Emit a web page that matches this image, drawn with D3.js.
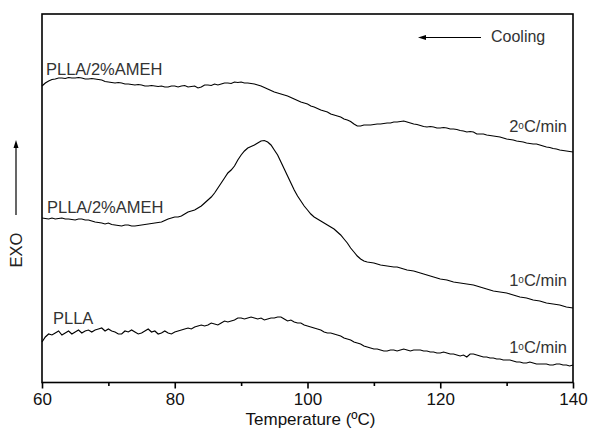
<!DOCTYPE html>
<html>
<head>
<meta charset="utf-8">
<script src="https://cdn.jsdelivr.net/npm/d3@7/dist/d3.min.js"></script>
<style>
  html, body { margin: 0; padding: 0; background: #fff; }
  svg { display: block; font-family: "Liberation Sans", Arial, Helvetica, sans-serif; }
</style>
</head>
<body>
<svg id="chart" width="590" height="430"></svg>
<script>
// Temperature (°C), readings every half degree
const temperature = d3.range(60, 140.25, 0.5);

// Heat flow (arbitrary units, exo up)
const rate2_AMEH = [
  31.4,31.7,31.9,32.05,32.1,32.2,32.2,32.15,32.25,32.2,
  32.2,32.25,32.2,32.1,32.1,32.15,32.1,32.05,32.0,31.85,
  31.8,31.75,31.7,31.75,31.7,31.6,31.6,31.55,31.5,31.55,
  31.5,31.4,31.4,31.45,31.4,31.35,31.4,31.3,31.3,31.4,
  31.4,31.3,31.4,31.45,31.3,31.35,31.4,31.2,31.3,31.5,
  31.5,31.45,31.6,31.5,31.6,31.7,31.7,31.65,31.8,31.75,
  31.8,31.7,31.7,31.65,31.6,31.5,31.4,31.25,31.1,30.95,
  30.8,30.7,30.6,30.5,30.4,30.25,30.1,29.95,29.8,29.7,
  29.6,29.4,29.3,29.15,29.0,28.9,28.8,28.6,28.5,28.4,
  28.3,28.1,28.0,27.85,27.6,27.4,27.4,27.5,27.5,27.5,
  27.55,27.6,27.6,27.65,27.7,27.7,27.8,27.8,27.85,27.9,
  27.8,27.7,27.6,27.55,27.45,27.35,27.3,27.35,27.3,27.2,
  27.2,27.25,27.2,27.1,27.1,27.05,26.95,26.9,26.8,26.85,
  26.8,26.6,26.6,26.6,26.5,26.45,26.4,26.35,26.3,26.2,
  26.1,26.05,26.0,25.9,25.85,25.8,25.7,25.65,25.6,25.6,
  25.5,25.4,25.3,25.25,25.15,25.1,25.0,24.95,24.9,24.85,
  24.8];

const rate1_AMEH = [
  18.2,18.15,18.1,18.2,18.1,18.15,18.2,18.1,18.1,18.05,
  18.0,18.1,18.1,18.0,18.0,17.9,17.8,17.75,17.7,17.6,
  17.7,17.55,17.5,17.45,17.4,17.5,17.5,17.4,17.4,17.45,
  17.5,17.55,17.6,17.65,17.7,17.75,17.8,17.95,18.1,18.2,
  18.3,18.3,18.4,18.6,18.8,18.9,19.0,19.2,19.4,19.7,
  20.0,20.3,20.7,21.2,21.7,22.2,22.7,23.0,23.4,24.0,
  24.5,24.9,25.2,25.35,25.5,25.7,25.9,25.95,25.8,25.5,
  25.0,24.5,23.8,23.1,22.4,21.7,21.0,20.4,19.9,19.4,
  19.0,18.6,18.3,18.1,17.9,17.7,17.5,17.3,17.1,16.8,
  16.5,16.1,15.7,15.2,14.8,14.4,14.1,13.9,13.8,13.75,
  13.7,13.6,13.5,13.45,13.4,13.35,13.3,13.3,13.2,13.1,
  13.0,12.95,12.9,12.8,12.7,12.6,12.5,12.4,12.3,12.2,
  12.1,12.05,12.0,11.9,11.8,11.75,11.7,11.65,11.6,11.55,
  11.5,11.4,11.3,11.2,11.1,11.0,10.9,10.85,10.8,10.75,
  10.7,10.6,10.5,10.4,10.3,10.25,10.2,10.1,10.0,9.95,
  9.9,9.8,9.7,9.65,9.6,9.55,9.5,9.4,9.3,9.25,
  9.2];

const rate1_PLLA = [
  5.8,6.3,6.6,6.5,6.7,6.9,6.5,6.7,6.9,6.6,
  6.8,7.0,6.7,6.9,7.0,6.8,7.0,7.1,7.2,6.9,
  7.1,6.9,6.8,6.6,6.6,6.9,6.8,7.0,6.8,6.6,
  6.7,6.9,7.1,6.8,6.9,6.6,6.7,6.9,6.7,6.6,
  6.8,6.9,7.0,7.1,7.2,7.1,7.3,7.4,7.5,7.4,
  7.5,7.7,7.6,7.5,7.7,7.9,7.8,7.9,8.0,8.2,
  8.2,8.1,8.2,8.3,8.2,8.1,8.2,8.0,8.1,8.2,
  8.2,8.3,8.3,8.1,7.9,8.0,7.8,7.7,7.7,7.5,
  7.4,7.3,7.2,7.1,7.0,6.8,6.7,6.7,6.6,6.5,
  6.4,6.2,6.1,6.0,5.8,5.7,5.6,5.4,5.3,5.2,
  5.1,5.1,5.0,4.9,4.9,5.0,5.0,4.9,5.0,5.1,
  5.0,4.9,5.0,5.0,5.0,4.9,4.9,4.8,4.8,4.7,
  4.7,4.8,4.7,4.6,4.6,4.5,4.4,4.5,4.3,4.6,
  4.6,4.5,4.4,4.3,4.3,4.2,4.2,4.1,4.1,4.0,
  4.0,4.0,3.9,3.8,3.8,3.7,3.7,3.8,3.7,3.6,
  3.6,3.6,3.6,3.5,3.5,3.6,3.6,3.5,3.5,3.4,
  3.5];

const xTicks = [60, 80, 100, 120, 140];
const xMinorTicks = [70, 90, 110, 130];
const seriesNames = ["PLLA/2%AMEH", "PLLA/2%AMEH", "PLLA"];
const rateNumbers = ["2", "1", "1"];   // rate labels read "2°C/min", "1°C/min", "1°C/min"

const svg = d3.select("#chart");
const L = 42, R = 573, T = 14, B = 382.5;

const x = d3.scaleLinear().domain([60, 140]).range([L, R]);
const y = d3.scaleLinear().domain([1.75, 38.6]).range([B, T]);

// curves
const line = d3.line().x(d => x(d[0])).y(d => y(d[1]));
[rate2_AMEH, rate1_AMEH, rate1_PLLA].forEach(vals => {
  svg.append("path")
    .attr("d", line(temperature.map((t, i) => [t, vals[i]]).filter(d => d[1] !== undefined)))
    .attr("fill", "none")
    .attr("stroke", "#000")
    .attr("stroke-width", 1.15)
    .attr("stroke-linejoin", "miter");
});

// frame
svg.append("rect").attr("x", L).attr("y", T).attr("width", R - L).attr("height", B - T)
  .attr("fill", "none").attr("stroke", "#000").attr("stroke-width", 1.6);

// x axis
const xAxis = d3.axisBottom(x).tickValues(xTicks).tickSize(6).tickPadding(4).tickFormat(d3.format("d"));
const gx = svg.append("g").attr("transform", `translate(0,${B})`).call(xAxis);
gx.select(".domain").remove();
gx.selectAll(".tick line").attr("stroke-width", 1.6);
gx.selectAll(".tick text").attr("font-size", 17).attr("font-family", "Liberation Sans, Arial, sans-serif").attr("fill", "#111");
const gm = svg.append("g").attr("transform", `translate(0,${B})`)
  .call(d3.axisBottom(x).tickValues(xMinorTicks).tickSize(3.5).tickFormat(""));
gm.select(".domain").remove();
gm.selectAll(".tick line").attr("stroke-width", 1.6);

svg.append("text").attr("x", (L + R) / 2 + 3).attr("y", 425).attr("text-anchor", "middle")
  .attr("font-size", 17).attr("fill", "#111").text("Temperature (ºC)");

// Y label with arrow
svg.append("text").attr("transform", "translate(22,250) rotate(-90)").attr("text-anchor", "middle")
  .attr("font-size", 16.5).attr("fill", "#222").text("EXO");
svg.append("line").attr("x1", 16).attr("x2", 16).attr("y1", 215).attr("y2", 146)
  .attr("stroke", "#000").attr("stroke-width", 1.2);
svg.append("path").attr("d", "M16,140 L13.5,148 L18.5,148 Z").attr("fill", "#000");

// Cooling arrow
svg.append("line").attr("x1", 424).attr("x2", 481).attr("y1", 37.5).attr("y2", 37.5)
  .attr("stroke", "#000").attr("stroke-width", 1);
svg.append("path").attr("d", "M418,37.5 L426,35 L426,40 Z").attr("fill", "#000");
svg.append("text").attr("x", 491).attr("y", 42).attr("font-size", 16).attr("fill", "#333").text("Cooling");

// series labels
const labelStyle = sel => sel.attr("font-size", 16.5).attr("fill", "#333");
const leftLabelPos = [[46, 75], [47, 213], [53, 324]];
seriesNames.forEach((s, i) => {
  svg.append("text").attr("x", leftLabelPos[i][0]).attr("y", leftLabelPos[i][1]).call(labelStyle).text(s);
});
const rightLabelY = [132, 286, 353];
rateNumbers.forEach((n, i) => {
  const t = svg.append("text").attr("x", 567).attr("y", rightLabelY[i]).attr("text-anchor", "end").call(labelStyle);
  t.append("tspan").text(n);
  t.append("tspan").attr("font-size", 10).attr("dy", -3.5).text("o");
  t.append("tspan").attr("dy", 3.5).text("C/min");
});
</script>
</body>
</html>
